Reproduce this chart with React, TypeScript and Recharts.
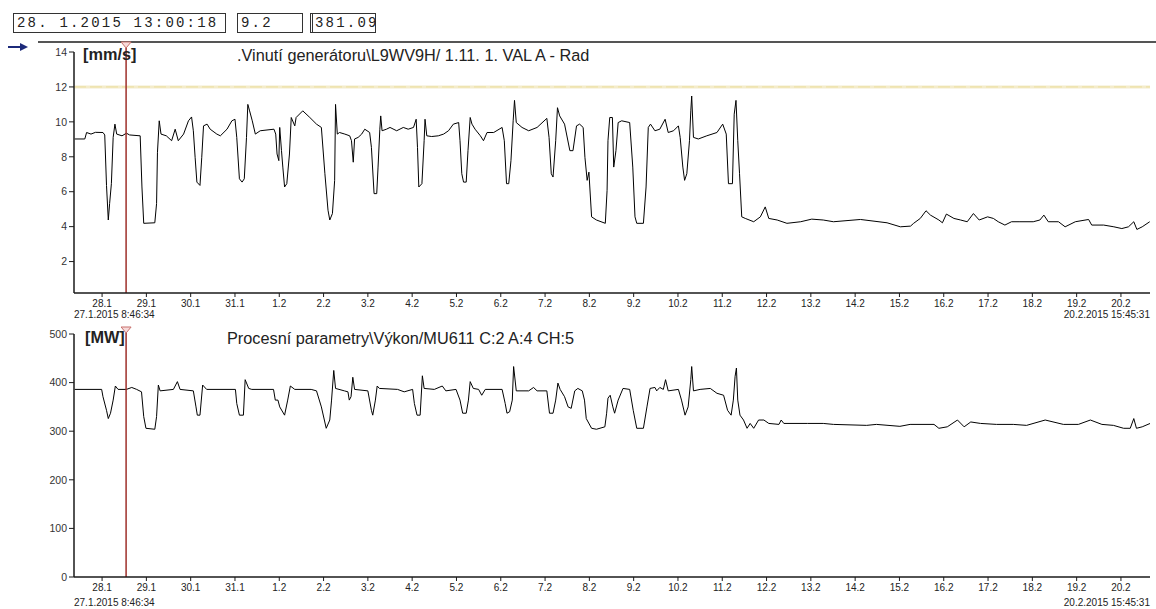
import { Line, LineChart, ReferenceLine, XAxis, YAxis } from 'recharts';

// x values are days counted from 28.1.2015 00:00
const START = -0.634; // 27.1.2015 8:46:34
const END = 23.656; // 20.2.2015 15:45:31
const CURSOR = 0.542; // 28.1.2015 13:00:18

const dayTicks = [0, 1, 2, 3, 4, 5, 6, 7, 8, 9, 10, 11, 12, 13, 14, 15, 16, 17, 18, 19, 20, 21, 22, 23];
const dayLabels = [
    '28.1', '29.1', '30.1', '31.1', '1.2', '2.2', '3.2', '4.2', '5.2', '6.2', '7.2', '8.2',
    '9.2', '10.2', '11.2', '12.2', '13.2', '14.2', '15.2', '16.2', '17.2', '18.2', '19.2', '20.2',
];

const vibTicks = [2, 4, 6, 8, 10, 12, 14];
const mwTicks = [0, 100, 200, 300, 400, 500];

// [day, mm/s]
const vibSamples: [number, number][] = [
    [-0.62, 9.02], [-0.39, 9.02], [-0.35, 9.39], [-0.25, 9.3], [-0.15, 9.4], [0.02, 9.39], [0.06, 9.25],
    [0.1, 6.36], [0.14, 4.38], [0.17, 5.32], [0.21, 6.46], [0.25, 9.11], [0.29, 9.87], [0.33, 9.3],
    [0.45, 9.2], [0.55, 9.35], [0.62, 9.25], [0.86, 9.2], [0.9, 6.27], [0.94, 4.19], [1.19, 4.22],
    [1.23, 5.32], [1.25, 8.26], [1.29, 10.06], [1.33, 9.3], [1.45, 9.2], [1.57, 8.92], [1.65, 9.58],
    [1.72, 8.92], [1.84, 9.3], [1.95, 10.06], [2.02, 10.28], [2.06, 9.49], [2.1, 7.97], [2.14, 6.55],
    [2.21, 6.36], [2.25, 7.97], [2.29, 9.77], [2.37, 9.87], [2.44, 9.58], [2.59, 9.3], [2.67, 9.2],
    [2.82, 9.58], [2.93, 10.06], [3.0, 10.15], [3.04, 9.11], [3.1, 6.74], [3.16, 6.55], [3.21, 6.74],
    [3.26, 9.11], [3.29, 11.0], [3.33, 10.63], [3.39, 10.06], [3.46, 9.3], [3.57, 9.49], [3.88, 9.58],
    [3.92, 9.3], [3.95, 8.16], [3.99, 7.78], [4.01, 9.68], [4.05, 8.35], [4.08, 7.41], [4.12, 6.27],
    [4.17, 6.46], [4.23, 8.16], [4.27, 10.25], [4.35, 9.77], [4.38, 10.25], [4.53, 10.63], [4.69, 10.25],
    [4.84, 9.87], [4.95, 9.68], [5.03, 7.03], [5.1, 4.94], [5.14, 4.38], [5.2, 4.75], [5.25, 6.65],
    [5.27, 11.0], [5.31, 9.3], [5.36, 9.39], [5.48, 9.3], [5.59, 9.2], [5.63, 8.92], [5.67, 7.69],
    [5.7, 9.02], [5.78, 9.11], [5.86, 9.3], [5.93, 9.58], [6.04, 9.39], [6.08, 8.54], [6.14, 5.89],
    [6.2, 5.89], [6.23, 7.41], [6.27, 9.58], [6.29, 10.34], [6.32, 9.49], [6.42, 9.58], [6.5, 9.68],
    [6.65, 9.49], [6.8, 9.68], [6.91, 9.58], [7.03, 9.68], [7.09, 10.15], [7.12, 8.54], [7.15, 6.27],
    [7.22, 6.46], [7.27, 8.92], [7.29, 10.15], [7.33, 9.2], [7.44, 9.16], [7.59, 9.2], [7.71, 9.3],
    [7.82, 9.49], [7.93, 9.87], [8.05, 9.96], [8.08, 8.92], [8.12, 7.03], [8.16, 6.55], [8.22, 6.55],
    [8.26, 8.35], [8.31, 10.25], [8.35, 9.87], [8.42, 9.58], [8.54, 9.2], [8.61, 8.92], [8.69, 9.39],
    [8.84, 9.39], [9.03, 9.68], [9.08, 8.92], [9.13, 6.46], [9.18, 6.46], [9.23, 7.78], [9.28, 10.06],
    [9.31, 11.23], [9.35, 9.96], [9.48, 9.68], [9.63, 9.49], [9.82, 9.68], [10.04, 10.2], [10.09, 9.11],
    [10.14, 7.03], [10.18, 6.84], [10.24, 8.92], [10.28, 10.81], [10.33, 10.34], [10.44, 9.87],
    [10.56, 8.35], [10.63, 8.35], [10.71, 9.77], [10.78, 9.87], [10.86, 9.68], [10.9, 7.97],
    [10.95, 6.65], [10.99, 7.12], [11.05, 4.56], [11.16, 4.38], [11.36, 4.19], [11.4, 6.08],
    [11.42, 8.92], [11.46, 10.25], [11.52, 10.25], [11.55, 7.41], [11.6, 8.35], [11.65, 9.96],
    [11.73, 10.06], [11.91, 9.96], [11.98, 7.41], [12.03, 4.56], [12.07, 4.19], [12.22, 4.19],
    [12.28, 6.27], [12.33, 9.68], [12.38, 9.87], [12.48, 9.49], [12.59, 9.58], [12.71, 10.15],
    [12.78, 9.39], [12.9, 9.49], [13.01, 9.77], [13.05, 9.11], [13.11, 7.41], [13.15, 6.65],
    [13.2, 7.03], [13.26, 8.92], [13.29, 10.63], [13.31, 11.48], [13.35, 9.11], [13.46, 9.02],
    [13.65, 9.2], [13.88, 9.39], [14.01, 9.87], [14.09, 9.3], [14.14, 6.46], [14.23, 6.46],
    [14.27, 10.44], [14.31, 11.23], [14.35, 8.92], [14.39, 7.03], [14.44, 4.56], [14.52, 4.47],
    [14.71, 4.28], [14.86, 4.56], [14.97, 5.13], [15.05, 4.47], [15.24, 4.38], [15.46, 4.19],
    [15.77, 4.28], [16.02, 4.43], [16.28, 4.38], [16.51, 4.28], [17.12, 4.41], [17.72, 4.22],
    [18.02, 3.99], [18.25, 4.03], [18.32, 4.19], [18.47, 4.47], [18.6, 4.91], [18.7, 4.66],
    [18.89, 4.38], [18.97, 4.22], [19.06, 4.72], [19.23, 4.47], [19.38, 4.38], [19.53, 4.28],
    [19.67, 4.75], [19.8, 4.38], [19.99, 4.56], [20.12, 4.47], [20.23, 4.28], [20.38, 4.09],
    [20.53, 4.28], [20.72, 4.28], [21.02, 4.28], [21.17, 4.38], [21.26, 4.66], [21.36, 4.28],
    [21.59, 4.28], [21.74, 3.99], [21.97, 4.28], [22.27, 4.41], [22.34, 4.09], [22.61, 4.09],
    [22.84, 3.99], [23.02, 3.89], [23.17, 3.99], [23.29, 4.28], [23.36, 3.84], [23.48, 3.99],
    [23.65, 4.28],
];

// [day, MW]
const mwSamples: [number, number][] = [
    [-0.62, 386], [-0.01, 386], [0.02, 371], [0.1, 343], [0.14, 326], [0.19, 337], [0.25, 364],
    [0.3, 393], [0.36, 386], [0.55, 386], [0.67, 390], [0.78, 386], [0.89, 381], [0.94, 330],
    [0.99, 306], [1.19, 304], [1.23, 330], [1.27, 395], [1.31, 383], [1.61, 386], [1.7, 402],
    [1.76, 386], [2.06, 383], [2.12, 350], [2.15, 333], [2.21, 333], [2.27, 395], [2.36, 386],
    [3.01, 386], [3.04, 357], [3.1, 333], [3.19, 333], [3.23, 406], [3.31, 388], [3.38, 386],
    [3.87, 386], [3.91, 364], [3.97, 364], [4.01, 350], [4.12, 333], [4.19, 364], [4.25, 393],
    [4.35, 386], [4.72, 386], [4.84, 383], [4.95, 350], [5.06, 306], [5.14, 323], [5.18, 364],
    [5.23, 425], [5.27, 388], [5.47, 383], [5.55, 381], [5.58, 364], [5.62, 371], [5.66, 411],
    [5.7, 386], [6.0, 383], [6.08, 343], [6.11, 333], [6.17, 364], [6.21, 393], [6.26, 388],
    [6.67, 386], [6.82, 381], [7.01, 386], [7.05, 357], [7.11, 333], [7.18, 333], [7.23, 414],
    [7.27, 388], [7.5, 386], [7.68, 393], [7.76, 383], [7.99, 386], [8.08, 364], [8.14, 337],
    [8.22, 337], [8.27, 364], [8.31, 402], [8.38, 388], [8.5, 386], [8.57, 374], [8.65, 386],
    [9.03, 386], [9.1, 357], [9.14, 337], [9.2, 340], [9.26, 364], [9.29, 433], [9.35, 383],
    [9.63, 383], [9.74, 390], [9.82, 383], [10.04, 383], [10.1, 337], [10.18, 337], [10.24, 364],
    [10.29, 399], [10.34, 386], [10.44, 371], [10.52, 350], [10.59, 347], [10.67, 383], [10.74, 388],
    [10.84, 383], [10.89, 364], [10.93, 326], [11.05, 306], [11.16, 304], [11.35, 309], [11.39, 337],
    [11.42, 368], [11.47, 374], [11.53, 350], [11.57, 337], [11.65, 364], [11.76, 388], [11.91, 386],
    [11.99, 343], [12.07, 306], [12.22, 306], [12.3, 350], [12.37, 388], [12.48, 390], [12.52, 383],
    [12.59, 390], [12.67, 386], [12.72, 406], [12.78, 383], [13.01, 386], [13.08, 364], [13.16, 333],
    [13.23, 350], [13.29, 406], [13.31, 433], [13.35, 383], [13.5, 386], [13.73, 388], [13.88, 378],
    [14.03, 374], [14.12, 343], [14.2, 333], [14.25, 364], [14.29, 413], [14.32, 430], [14.35, 364],
    [14.4, 333], [14.48, 323], [14.56, 306], [14.63, 316], [14.71, 306], [14.82, 323], [14.94, 323],
    [15.05, 316], [15.28, 314], [15.33, 323], [15.39, 316], [15.92, 316], [16.28, 316], [16.51, 314],
    [17.26, 312], [17.48, 314], [18.01, 310], [18.24, 314], [18.78, 314], [18.89, 306], [19.08, 309],
    [19.31, 323], [19.46, 309], [19.61, 319], [19.83, 316], [20.19, 314], [20.57, 314], [20.87, 312],
    [21.29, 323], [21.7, 314], [22.04, 314], [22.31, 323], [22.57, 314], [22.83, 312], [23.06, 306],
    [23.21, 306], [23.29, 326], [23.35, 306], [23.48, 309], [23.66, 316],
];

const vibData = vibSamples.map(([t, v]) => ({ t, v }));
const mwData = mwSamples.map(([t, v]) => ({ t, v }));

const FONT = '"Liberation Sans", Arial, sans-serif';
const MONO = '"Liberation Mono", "DejaVu Sans Mono", monospace';
const AXIS = '#1a1a1a';

// red cursor line with the little triangle above the plot
const CursorMark = (props: any) => {
    const vb = props.viewBox || {};
    const x = vb.x;
    const y = vb.y;
    const { lift, tip } = props;
    if (x == null || y == null) return null;
    return (
        <g>
            <line x1={x} x2={x} y1={y - tip} y2={y} stroke="#9e2f2a" strokeWidth={1.5} />
            <path
                d={`M${x - 5},${y - lift} L${x + 5},${y - lift} L${x},${y - tip} Z`}
                fill="#f7dada"
                stroke="#c8706c"
                strokeWidth={1}
            />
        </g>
    );
};

const xAxisProps = {
    type: 'number' as const,
    dataKey: 't',
    domain: [START, END],
    ticks: dayTicks,
    interval: 0 as const,
    allowDataOverflow: true,
    tickFormatter: (d: number) => dayLabels[d] ?? '',
    tickSize: 4,
    tickMargin: 3,
    axisLine: { stroke: AXIS, strokeWidth: 1.5 },
    tickLine: { stroke: AXIS },
    tick: { fontSize: 10, fill: '#222', fontFamily: FONT },
};

const yAxisProps = {
    type: 'number' as const,
    width: 74,
    interval: 0 as const,
    allowDataOverflow: true,
    tickSize: 5,
    tickMargin: 2,
    axisLine: { stroke: AXIS, strokeWidth: 1.5 },
    tickLine: { stroke: AXIS },
    tick: { fontSize: 10.5, fill: '#333', fontFamily: FONT },
};

const boxStyle = {
    position: 'absolute' as const,
    top: 13,
    height: 20,
    boxSizing: 'border-box' as const,
    border: '1px solid #333',
    fontFamily: MONO,
    fontSize: 14,
    lineHeight: '18px',
    letterSpacing: 2.2,
    paddingLeft: 3,
    color: '#222',
    whiteSpace: 'pre' as const,
};

const titleStyle = {
    position: 'absolute' as const,
    fontFamily: FONT,
    fontSize: 16.3,
    lineHeight: '16px',
    color: '#222',
    whiteSpace: 'pre' as const,
};

const stampStyle = {
    position: 'absolute' as const,
    fontFamily: FONT,
    fontSize: 10,
    lineHeight: '10px',
    color: '#222',
    whiteSpace: 'pre' as const,
};

export default function App() {
    return (
        <div style={{ position: 'absolute', left: 0, top: 0, width: 1156, height: 609, background: '#fff', overflow: 'hidden' }}>
            <div style={{ ...boxStyle, left: 13, width: 213 }}>28. 1.2015 13:00:18</div>
            <div style={{ ...boxStyle, left: 237, width: 66 }}>9.2</div>
            <div style={{ ...boxStyle, left: 310, width: 66, borderLeft: '3px double #333', paddingLeft: 2 }}>381.09</div>
            <div style={{ position: 'absolute', left: 38, top: 41, width: 1118, height: 2, background: '#555' }} />
            <svg style={{ position: 'absolute', left: 6, top: 41 }} width={24} height={12}>
                <line x1={2} y1={6} x2={16} y2={6} stroke="#1c2a7a" strokeWidth={2} />
                <polygon points="14,2 22,6 14,10" fill="#1c2a7a" />
            </svg>

            <div style={{ position: 'absolute', left: 0, top: 0 }}>
                <LineChart width={1156} height={321} data={vibData} margin={{ top: 52, right: 6, bottom: 0, left: 0 }}>
                    <XAxis {...xAxisProps} height={28} />
                    <YAxis {...yAxisProps} domain={[0.2, 14]} ticks={vibTicks} />
                    <ReferenceLine y={12} stroke="#f4eccb" strokeWidth={3} />
                    <ReferenceLine y={12} stroke="#ebdf9e" strokeWidth={1} strokeDasharray="12 4" />
                    <Line type="linear" dataKey="v" stroke="#000" strokeWidth={1} dot={false} isAnimationActive={false} />
                    <ReferenceLine x={CURSOR} stroke="#9e2f2a" strokeWidth={1.5} label={<CursorMark lift={10} tip={4} />} />
                </LineChart>
            </div>

            <div style={{ position: 'absolute', left: 0, top: 300 }}>
                <LineChart width={1156} height={309} data={mwData} margin={{ top: 34, right: 6, bottom: 0, left: 0 }}>
                    <XAxis {...xAxisProps} height={32} />
                    <YAxis {...yAxisProps} domain={[0, 500]} ticks={mwTicks} />
                    <Line type="linear" dataKey="v" stroke="#000" strokeWidth={1} dot={false} isAnimationActive={false} />
                    <ReferenceLine x={CURSOR} stroke="#9e2f2a" strokeWidth={1.5} label={<CursorMark lift={7} tip={1} />} />
                </LineChart>
            </div>

            <div style={{ ...titleStyle, left: 83, top: 45.5, fontWeight: 'bold' }}>[mm/s]</div>
            <div style={{ ...titleStyle, left: 237, top: 46.5 }}>.Vinutí generátoru\L9WV9H/ 1.11. 1. VAL A - Rad</div>
            <div style={{ ...titleStyle, left: 85, top: 328.5, fontWeight: 'bold' }}>[MW]</div>
            <div style={{ ...titleStyle, left: 227, top: 329.5 }}>Procesní parametry\Výkon/MU611 C:2 A:4 CH:5</div>

            <div style={{ ...stampStyle, left: 74, top: 310 }}>27.1.2015 8:46:34</div>
            <div style={{ ...stampStyle, right: 6, top: 310 }}>20.2.2015 15:45:31</div>
            <div style={{ ...stampStyle, left: 74, top: 598 }}>27.1.2015 8:46:34</div>
            <div style={{ ...stampStyle, right: 6, top: 598 }}>20.2.2015 15:45:31</div>
        </div>
    );
}
